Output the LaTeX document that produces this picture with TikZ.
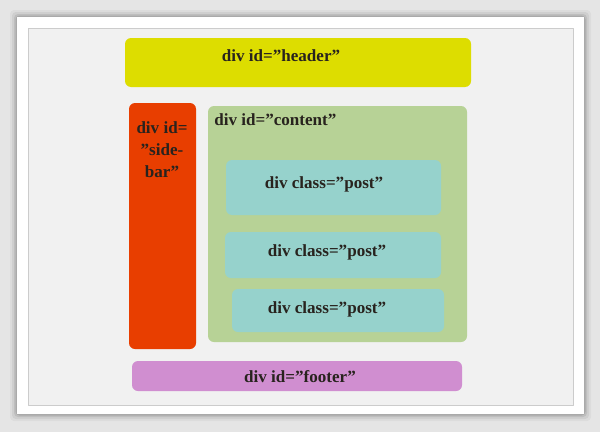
\documentclass[tikz,border=0pt]{standalone}
\usepackage{fontspec}
\setmainfont{Liberation Serif}
\usepackage{xcolor}
\usepackage{tikz}
\definecolor{headeryellow}{RGB}{221,221,0}
\definecolor{sidebarred}{RGB}{232,62,0}
\definecolor{contentgreen}{RGB}{183,210,150}
\definecolor{postcyan}{RGB}{150,210,204}
\definecolor{footerpink}{RGB}{208,142,208}
\definecolor{pagegray}{RGB}{229,229,229}
\definecolor{innergray}{RGB}{241,241,241}
\definecolor{divtext}{RGB}{40,35,30}
\tikzstyle{divbox} = [rounded corners=4.5pt]
\tikzstyle{divlabel} = [anchor=base,text=divtext,inner sep=0pt,font=\fontsize{12.8}{15.5}\selectfont\bfseries]

\begin{document}
\begin{tikzpicture}[line cap=round,line join=round,x=0.75pt,y=-0.75pt]
                \useasboundingbox (0,0) rectangle (600,432);
                \fill[pagegray] (0,0) rectangle (600,432);
                % frame of the photo
                \foreach \s/\o in {7/0.04,5/0.06,3/0.08,1.5/0.1}
                    \fill[black,opacity=\o,rounded corners=3pt] (17-\s,17-\s) rectangle (584+\s,414+\s);
                \fill[white] (17,17) rectangle (584,414);
                \draw[line width=0.6pt,black!20,fill=innergray] (28,28) rectangle (573,405);
                % divs
                \fill[divbox,headeryellow] (125,38) rectangle (471,87);
                \fill[divbox,sidebarred] (129,103) rectangle (196,349);
                \fill[divbox,contentgreen] (208,106) rectangle (467,342);
                \fill[divbox,postcyan] (226,160) rectangle (441,215);
                \fill[divbox,postcyan] (225,232) rectangle (441,278);
                \fill[divbox,postcyan] (232,289) rectangle (444,332);
                \fill[divbox,footerpink] (132,361) rectangle (462,391);
                % texts
                \node[divlabel] (header) at (281,61) {div id=”header”};
                \foreach \t/\y [count=\i] in {div id=/133,”side-/155,bar”/177}
                    \node[divlabel] (sidebar\i) at (162,\y) {\t};
                \node[divlabel,anchor=base west] (content) at (214,125) {div id=”content”};
                \node[divlabel] (post1) at (324,188) {div class=”post”};
                \node[divlabel] (post2) at (327,256) {div class=”post”};
                \node[divlabel] (post3) at (327,313) {div class=”post”};
                \node[divlabel] (footer) at (300,382) {div id=”footer”};
            \end{tikzpicture}
\end{document}
